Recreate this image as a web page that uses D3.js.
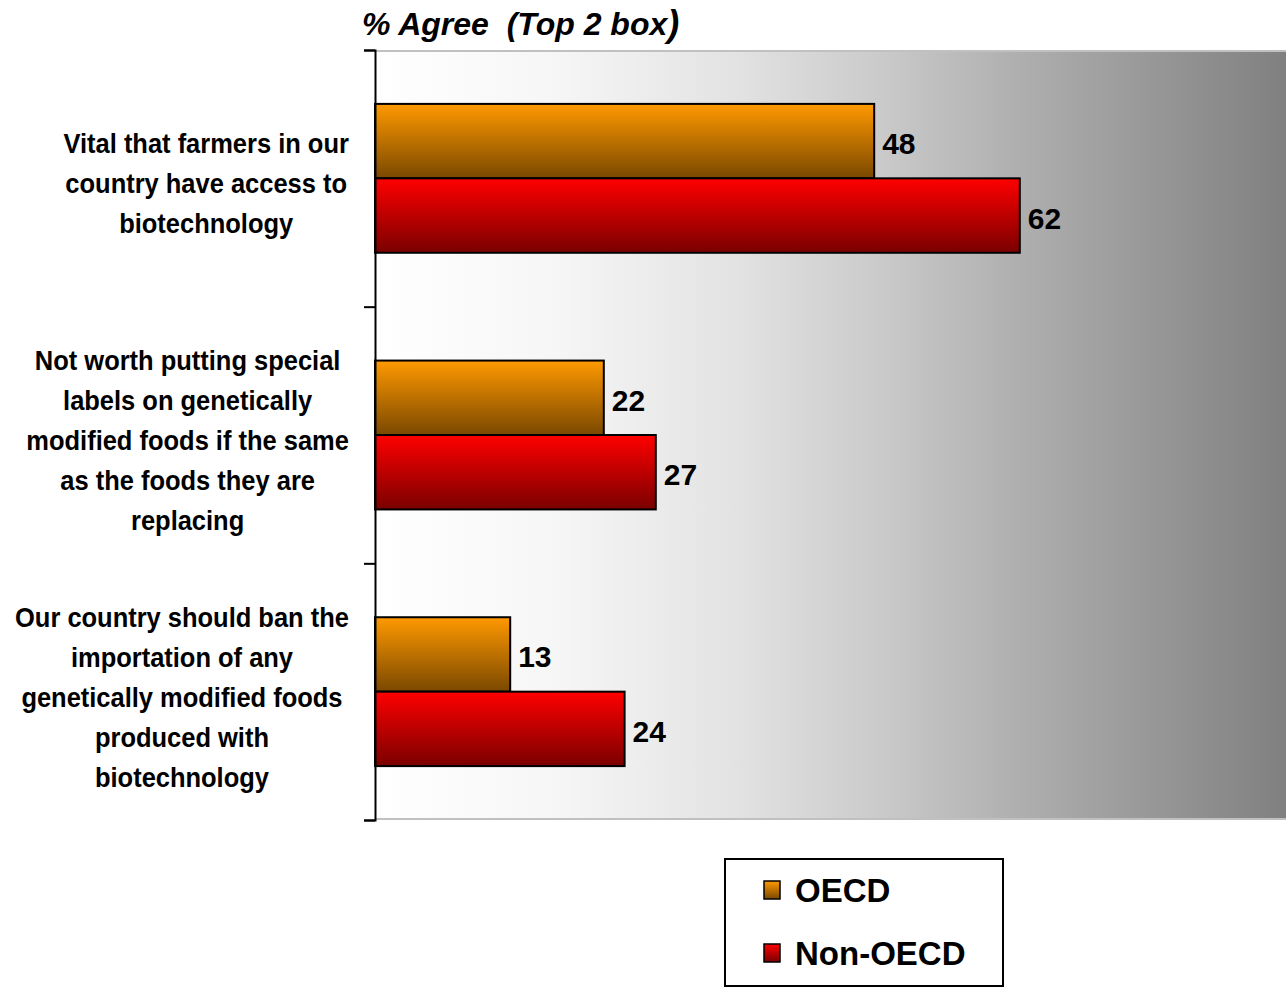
<!DOCTYPE html>
<html><head><meta charset="utf-8">
<script src="https://cdn.jsdelivr.net/npm/d3@7"></script>
<style>
html,body{margin:0;padding:0;background:#fff;}
svg{display:block;}
</style></head>
<body>
<svg id="chart" width="1286" height="988"></svg>
<script>
const categories = [
  ["Vital that farmers in our","country have access to","biotechnology"],
  ["Not worth putting special","labels on genetically","modified foods if the same","as the foods they are","replacing"],
  ["Our country should ban the","importation of any","genetically modified foods","produced with","biotechnology"]
];
const categoryKeys = ["c1","c2","c3"];
const seriesNames = ["OECD","Non-OECD"];
const oecdValues = [48, 22, 13];
const nonOecdValues = [62, 27, 24];
const titleText = "% Agree  (Top 2 box";

const svg = d3.select("#chart");
const defs = svg.append("defs");

const L = 375, R = 1286, T = 50, B = 820;

const bg = defs.append("linearGradient").attr("id","bg").attr("x1","0").attr("x2","1").attr("y1","0").attr("y2","0");
[[0,"#ffffff"],[0.2,"#f6f6f6"],[0.4,"#e2e2e2"],[0.55,"#cbcbcb"],[0.7,"#b0b0b0"],[1,"#808080"]]
  .forEach(([o,c])=>bg.append("stop").attr("offset",o).attr("stop-color",c));

function vgrad(id, top, bottom){
  const g = defs.append("linearGradient").attr("id",id).attr("x1","0").attr("x2","0").attr("y1","0").attr("y2","1");
  g.append("stop").attr("offset",0).attr("stop-color",top);
  g.append("stop").attr("offset",1).attr("stop-color",bottom);
}
vgrad("gO","#ff9900","#7a4800");
vgrad("gN","#ff0000","#7a0000");
const fills = ["url(#gO)","url(#gN)"];

const x = d3.scaleLinear().domain([0,100]).range([L, L+1040]);
const y0 = d3.scaleBand().domain(categoryKeys).range([T,B]).paddingInner(0.42).paddingOuter(0.21);
const y1 = d3.scaleBand().domain(seriesNames).range([0,y0.bandwidth()]);

svg.append("rect").attr("x",L).attr("y",T).attr("width",R-L).attr("height",B-T).attr("fill","url(#bg)");
svg.append("line").attr("x1",L).attr("x2",R).attr("y1",T+1).attr("y2",T+1).attr("stroke","#c0c0c0").attr("stroke-width",2);
svg.append("line").attr("x1",L).attr("x2",R).attr("y1",B-1).attr("y2",B-1).attr("stroke","#c0c0c0").attr("stroke-width",2);

const data = categoryKeys.map((k,i)=>({key:k, vals:[oecdValues[i], nonOecdValues[i]]}));
const groups = svg.selectAll("g.grp").data(data).join("g").attr("class","grp")
  .attr("transform",d=>`translate(0,${y0(d.key)})`);
groups.selectAll("rect").data(d=>d.vals.map((v,j)=>({v, s:seriesNames[j], j})))
  .join("rect")
  .attr("x",x(0)).attr("y",d=>y1(d.s)).attr("width",d=>x(d.v)-x(0)).attr("height",y1.bandwidth())
  .attr("fill",d=>fills[d.j]).attr("stroke","#000").attr("stroke-width",2);
groups.selectAll("text").data(d=>d.vals.map((v,j)=>({v, s:seriesNames[j]})))
  .join("text")
  .attr("x",d=>x(d.v)+8).attr("y",d=>y1(d.s)+y1.bandwidth()/2+13)
  .attr("font-family","'Liberation Sans', Arial, sans-serif").attr("font-weight","bold").attr("font-size",30)
  .attr("fill","#000").text(d=>d.v);

const yAxisScale = d3.scaleLinear().domain([0,3]).range([T,B]);
const axis = d3.axisLeft(yAxisScale).tickValues([0,1,2,3]).tickSize(11).tickFormat("");
const ag = svg.append("g").attr("transform",`translate(${L},0)`).call(axis);
ag.selectAll("path").attr("stroke","#000").attr("stroke-width",2);
ag.selectAll("line").attr("stroke","#000").attr("stroke-width",2);

// category labels (condensed via horizontal scale)
const SX = 0.91;
data.forEach((d,i)=>{
  const lines = categories[i];
  const g = svg.append("g");
  const t = g.append("text").attr("font-family","'Liberation Sans', Arial, sans-serif")
    .attr("font-weight","bold").attr("font-size",28).attr("fill","#000").attr("text-anchor","middle");
  const cy = y0(d.key) + y0.bandwidth()/2;
  const first = cy + 15 - (lines.length-1)/2*40;
  lines.forEach((ln,k)=>t.append("tspan").attr("x",0).attr("y",first+k*40).text(ln));
  const w = t.node().getBBox().width * SX;
  g.attr("transform",`translate(${349 - w/2},0) scale(${SX},1)`);
});

const tt = svg.append("text").attr("x",362).attr("y",35)
  .attr("font-family","'Liberation Sans', Arial, sans-serif").attr("font-weight","bold").attr("font-style","italic")
  .attr("font-size",32).attr("fill","#000").attr("xml:space","preserve").style("white-space","pre");
tt.append("tspan").text(titleText);
tt.append("tspan").attr("font-size",36).attr("dy",1).text(")");

const lg = svg.append("g");
lg.append("rect").attr("x",725).attr("y",859).attr("width",278).attr("height",127).attr("fill","#fff").attr("stroke","#000").attr("stroke-width",2);
seriesNames.forEach((s,i)=>{
  const yy = 881 + i*63;
  lg.append("rect").attr("x",764).attr("y",yy).attr("width",16).attr("height",18).attr("fill",fills[i]).attr("stroke","#000").attr("stroke-width",1.5);
  lg.append("text").attr("x",795).attr("y",yy+21).attr("font-family","'Liberation Sans', Arial, sans-serif")
    .attr("font-weight","bold").attr("font-size",33).attr("fill","#000").text(s);
});
</script>
</body></html>
